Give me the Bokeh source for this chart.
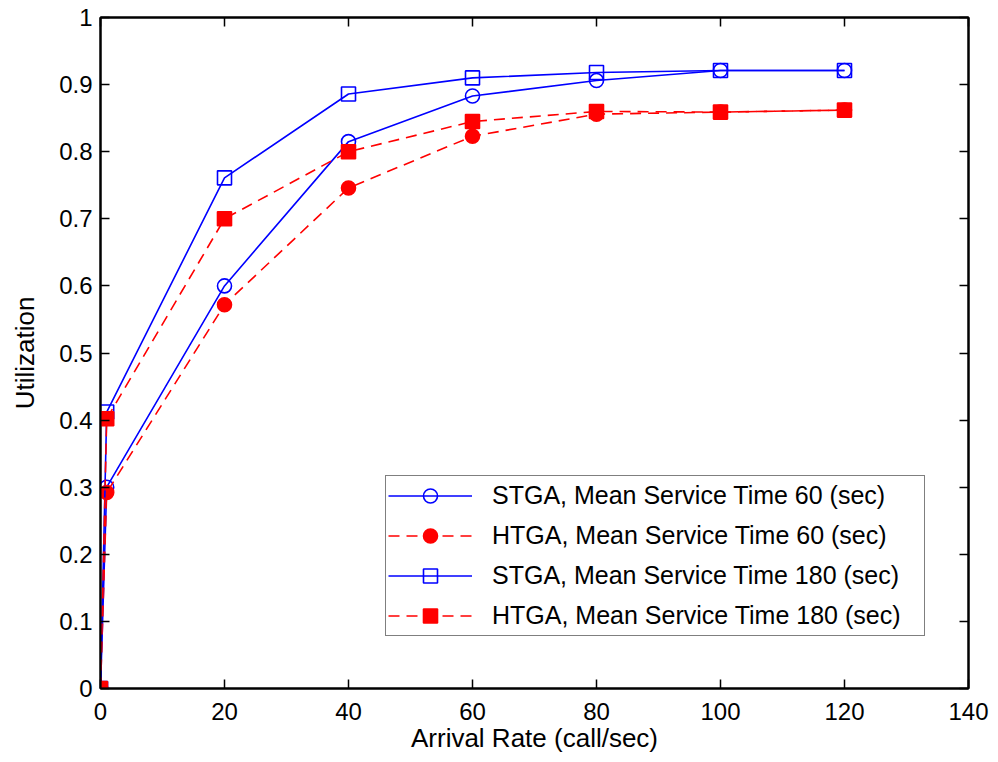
from bokeh.plotting import figure
from bokeh.models import LinearAxis, Range1d, Legend, LegendItem, FixedTicker
from bokeh.embed import file_html
from bokeh.resources import INLINE

arrival_rate = [0, 1, 20, 40, 60, 80, 100, 120]
stga_60 = [0, 0.300, 0.600, 0.815, 0.883, 0.906, 0.921, 0.921]
htga_60 = [0, 0.292, 0.572, 0.746, 0.823, 0.856, 0.859, 0.862]
stga_180 = [0, 0.412, 0.761, 0.886, 0.910, 0.918, 0.921, 0.921]
htga_180 = [0, 0.402, 0.700, 0.800, 0.845, 0.860, 0.859, 0.862]

x_ticks = [0, 20, 40, 60, 80, 100, 120, 140]
y_ticks = [0, 0.1, 0.2, 0.3, 0.4, 0.5, 0.6, 0.7, 0.8, 0.9, 1]
series_labels = ["STGA, Mean Service Time 60 (sec)", "HTGA, Mean Service Time 60 (sec)",
                 "STGA, Mean Service Time 180 (sec)", "HTGA, Mean Service Time 180 (sec)"]

FONT = "Arial"
TICK_FS = "24px"
LABEL_FS = "26px"
LEGEND_FS = "25px"

p = figure(width=998, height=762, output_backend="svg", toolbar_location=None,
           x_range=Range1d(0, 140), y_range=Range1d(0, 1),
           min_border_left=100, min_border_right=30, min_border_top=17, min_border_bottom=74,
           x_axis_label="Arrival Rate (call/sec)", y_axis_label="Utilization")
p.grid.visible = False
p.outline_line_color = "black"
p.outline_line_width = 2
p.background_fill_color = "white"
p.border_fill_color = "white"

for ax in [p.xaxis[0], p.yaxis[0]]:
    ax.major_tick_in = 9
    ax.major_tick_out = 0
    ax.minor_tick_in = 0
    ax.minor_tick_out = 0
    ax.axis_line_width = 2
    ax.major_tick_line_width = 1.5
    ax.major_label_text_font = FONT
    ax.major_label_text_font_size = TICK_FS
    ax.major_label_text_color = "black"
    ax.axis_label_text_font = FONT
    ax.axis_label_text_font_size = LABEL_FS
    ax.axis_label_text_color = "black"
    ax.axis_label_text_font_style = "normal"

p.xaxis[0].ticker = FixedTicker(ticks=x_ticks)
p.yaxis[0].ticker = FixedTicker(ticks=y_ticks)
p.yaxis[0].major_label_overrides = {0: "0", 1: "1"}
p.xaxis[0].major_label_standoff = 14
p.xaxis[0].axis_label_standoff = 0
p.yaxis[0].major_label_standoff = 8
p.yaxis[0].axis_label_standoff = 16

top = LinearAxis(ticker=FixedTicker(ticks=x_ticks), major_label_text_font_size="0px",
                 major_tick_in=9, major_tick_out=0, minor_tick_in=0, minor_tick_out=0,
                 axis_line_width=2, major_tick_line_width=1.5, major_label_standoff=0)
right = LinearAxis(ticker=FixedTicker(ticks=y_ticks), major_label_text_font_size="0px",
                   major_tick_in=9, major_tick_out=0, minor_tick_in=0, minor_tick_out=0,
                   axis_line_width=2, major_tick_line_width=1.5, major_label_standoff=0)
p.add_layout(top, "above")
p.add_layout(right, "right")

BLUE = "#0000ff"
RED = "#ff0000"
DASH = "11 7"

l1 = p.line(arrival_rate, stga_60, line_color=BLUE, line_width=1.6)
s1 = p.scatter(arrival_rate, stga_60, marker="circle", size=14, line_color=BLUE,
               fill_color=None, line_width=1.6)
l2 = p.line(arrival_rate, htga_60, line_color=RED, line_width=1.6, line_dash=DASH)
s2 = p.scatter(arrival_rate, htga_60, marker="circle", size=14, line_color=RED,
               fill_color=RED, line_width=1.6)
l3 = p.line(arrival_rate, stga_180, line_color=BLUE, line_width=1.6)
s3 = p.scatter(arrival_rate, stga_180, marker="square", size=14, line_color=BLUE,
               fill_color=None, line_width=1.6)
l4 = p.line(arrival_rate, htga_180, line_color=RED, line_width=1.6, line_dash=DASH)
s4 = p.scatter(arrival_rate, htga_180, marker="square", size=14, line_color=RED,
               fill_color=RED, line_width=1.6)

legend = Legend(items=[
    LegendItem(label=series_labels[0], renderers=[l1, s1]),
    LegendItem(label=series_labels[1], renderers=[l2, s2]),
    LegendItem(label=series_labels[2], renderers=[l3, s3]),
    LegendItem(label=series_labels[3], renderers=[l4, s4]),
], location=(285, 52), margin=0, padding=2, spacing=5,
    glyph_width=84, glyph_height=35, label_height=35, label_width=430,
    label_text_font=FONT, label_text_font_size=LEGEND_FS, label_text_color="black",
    label_standoff=20, border_line_color="black", border_line_width=1.5,
    background_fill_alpha=1)
p.add_layout(legend, "center")

open("out.html", "w").write(file_html(p, INLINE))
